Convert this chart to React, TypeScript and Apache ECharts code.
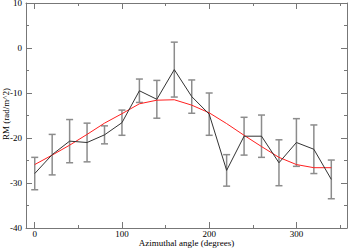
import React, { useEffect, useRef } from "react";
import * as echarts from "echarts";

const angles = [0, 20, 40, 60, 80, 100, 120, 140, 160, 180, 200, 220, 240, 260, 280, 300, 320, 340];
const rmValues = [-27.9, -23.7, -20.7, -21.0, -19.3, -16.6, -9.5, -11.4, -4.8, -10.8, -14.7, -27.2, -19.6, -19.6, -25.5, -21.0, -22.5, -29.2];
const rmErrors = [3.6, 4.5, 4.8, 4.3, 2.0, 2.8, 2.6, 4.2, 6.1, 3.7, 4.7, 3.5, 4.2, 4.7, 5.1, 5.3, 5.4, 4.3];
const fitValues = [-25.9, -23.8, -21.6, -19.2, -16.7, -14.6, -12.4, -11.6, -11.5, -12.7, -14.4, -16.8, -19.4, -21.9, -24.3, -25.9, -26.6, -26.6];
const xMajorTicks = [0, 100, 200, 300];
const xMinorTicks = [50, 150, 250, 350];
const xTitle = "Azimuthal angle (degrees)";
const yTitle = "RM (rad/m^2)";

const FONT = "Liberation Serif";
const AXIS_COLOR = "#777";

export default function App() {
  const ref = useRef<HTMLDivElement>(null);
  useEffect(() => {
    if (!ref.current) return;
    const chart = echarts.init(ref.current, undefined, { renderer: "svg" });
    const xBase = { type: "value", min: -10, max: 358, gridIndex: 0 };
    const hidden = { splitLine: { show: false }, axisLabel: { show: false } };
    const tickStyle = { lineStyle: { color: AXIS_COLOR, width: 1 } };
    const lineOn = { show: true, onZero: false, lineStyle: { color: AXIS_COLOR, width: 1 } };
    const lineOff = { show: false, onZero: false };
    const errData = angles.map((a, i) => [a, rmValues[i] - rmErrors[i], rmValues[i] + rmErrors[i]]);
    chart.setOption({
      animation: false,
      grid: { left: 26, right: 2, top: 3, bottom: 21, containLabel: false, outerBoundsMode: "none" },
      graphic: [
        {
          type: "text",
          x: 186.5,
          y: 242.5,
          style: { text: xTitle, fontFamily: FONT, fontSize: 9, fill: "#000", align: "center", verticalAlign: "middle" },
        },
        {
          type: "text",
          x: 5.5,
          y: 114,
          rotation: Math.PI / 2,
          style: { text: yTitle, fontFamily: FONT, fontSize: 9, fill: "#000", align: "center", verticalAlign: "middle" },
        },
      ],
      xAxis: [
        {
          ...xBase,
          position: "bottom",
          axisLine: lineOn,
          axisTick: { show: true, inside: true, length: 6, customValues: xMajorTicks, ...tickStyle },
          axisLabel: { show: true, customValues: xMajorTicks, margin: 1, fontFamily: FONT, fontSize: 9, color: "#000" },
          splitLine: { show: false },
        },
        {
          ...xBase,
          position: "bottom",
          axisLine: lineOff,
          axisTick: { show: true, inside: true, length: 3, customValues: xMinorTicks, ...tickStyle },
          ...hidden,
        },
        {
          ...xBase,
          position: "top",
          axisLine: lineOn,
          axisTick: { show: true, inside: true, length: 6, customValues: xMajorTicks, ...tickStyle },
          ...hidden,
        },
        {
          ...xBase,
          position: "top",
          axisLine: lineOff,
          axisTick: { show: true, inside: true, length: 3, customValues: xMinorTicks, ...tickStyle },
          ...hidden,
        },
      ],
      yAxis: [
        {
          type: "value",
          min: -40,
          max: 10,
          interval: 10,
          position: "left",
          axisLine: lineOn,
          axisTick: { show: true, inside: true, length: 6, ...tickStyle },
          minorTick: { show: true, splitNumber: 2, length: 3, lineStyle: { color: AXIS_COLOR } },
          axisLabel: { margin: 4, fontFamily: FONT, fontSize: 9, color: "#000" },
          splitLine: { show: false },
        },
        {
          type: "value",
          min: -40,
          max: 10,
          interval: 10,
          position: "right",
          axisLine: lineOn,
          axisTick: { show: true, inside: true, length: 6, ...tickStyle },
          minorTick: { show: true, splitNumber: 2, length: 3, lineStyle: { color: AXIS_COLOR } },
          ...hidden,
        },
      ],
      series: [
        {
          type: "custom",
          xAxisIndex: 0,
          yAxisIndex: 0,
          data: errData,
          z: 1,
          renderItem: (params: any, api: any) => {
            const x = api.value(0);
            const lo = api.coord([x, api.value(1)]);
            const hi = api.coord([x, api.value(2)]);
            const w = 3.5;
            const style = { stroke: "#8c8c8c", lineWidth: 1.5, fill: "none" };
            return {
              type: "group",
              children: [
                { type: "line", shape: { x1: lo[0], y1: lo[1], x2: hi[0], y2: hi[1] }, style },
                { type: "line", shape: { x1: lo[0] - w, y1: lo[1], x2: lo[0] + w, y2: lo[1] }, style },
                { type: "line", shape: { x1: hi[0] - w, y1: hi[1], x2: hi[0] + w, y2: hi[1] }, style },
              ],
            };
          },
        },
        {
          type: "line",
          xAxisIndex: 0,
          yAxisIndex: 0,
          data: angles.map((a, i) => [a, fitValues[i]]),
          showSymbol: false,
          symbol: "none",
          lineStyle: { color: "#ff2020", width: 1 },
          z: 2,
        },
        {
          type: "line",
          xAxisIndex: 0,
          yAxisIndex: 0,
          data: angles.map((a, i) => [a, rmValues[i]]),
          showSymbol: false,
          symbol: "none",
          lineStyle: { color: "#333", width: 1 },
          z: 3,
        },
      ],
    });
    return () => chart.dispose();
  }, []);
  return <div ref={ref} style={{ width: 349, height: 249, position: "absolute", left: 0, top: 0 }} />;
}
